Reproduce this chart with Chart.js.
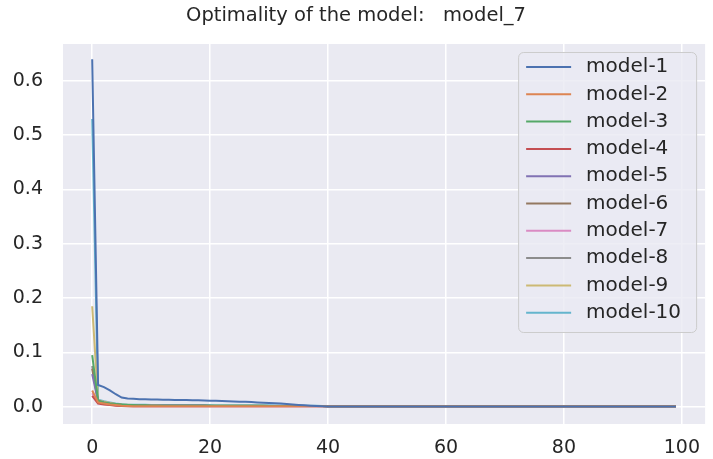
<!DOCTYPE html>
<html><head><meta charset="utf-8">
<script src="https://cdn.jsdelivr.net/npm/chart.js@4.4.1/dist/chart.umd.min.js"></script>
<style>html,body{margin:0;padding:0;background:#fff}</style>
</head><body>
<canvas id="c" width="713" height="459"></canvas>
<script>
const titleText = "Optimality of the model:   model_7";
const seriesNames = ["model-1","model-2","model-3","model-4","model-5","model-6","model-7","model-8","model-9","model-10"];
const seriesColors = ["#4C72B0","#DD8452","#55A868","#C44E52","#8172B3","#937860","#DA8BC3","#8C8C8C","#CCB974","#64B5CD"];
const xTicks = [0,20,40,60,80,100];
const yTicks = [0.0,0.1,0.2,0.3,0.4,0.5,0.6];
const epochs = [
0,1,2,3,4,5,6,7,8,9,
10,11,12,13,14,15,16,17,18,19,
20,21,22,23,24,25,26,27,28,29,
30,31,32,33,34,35,36,37,38,39,
40,41,42,43,44,45,46,47,48,49,
50,51,52,53,54,55,56,57,58,59,
60,61,62,63,64,65,66,67,68,69,
70,71,72,73,74,75,76,77,78,79,
80,81,82,83,84,85,86,87,88,89,
90,91,92,93,94,95,96,97,98,99];

const model1 = [
0.640,0.040,0.036,0.030,0.023,0.017,0.015,0.0145,0.014,0.0138,
0.0135,0.0133,0.013,0.0128,0.0126,0.0124,0.0122,0.012,0.0118,0.0115,
0.0112,0.011,0.0106,0.0102,0.0098,0.0094,0.009,0.0085,0.008,0.0075,
0.007,0.0064,0.0058,0.005,0.0042,0.0034,0.0026,0.0018,0.0012,0.0008,
0.0006,0.0006,0.0006,0.0006,0.0006,0.0006,0.0006,0.0006,0.0006,0.0006,
0.0005,0.0005,0.0005,0.0005,0.0005,0.0005,0.0005,0.0005,0.0005,0.0005,
0.0005,0.0005,0.0005,0.0005,0.0005,0.0005,0.0005,0.0005,0.0005,0.0005,
0.0005,0.0005,0.0005,0.0005,0.0005,0.0005,0.0005,0.0005,0.0005,0.0005,
0.0005,0.0005,0.0005,0.0005,0.0005,0.0005,0.0005,0.0005,0.0005,0.0005,
0.0005,0.0005,0.0005,0.0005,0.0005,0.0005,0.0005,0.0005,0.0005,0.0005];
const model2 = [
0.030,0.008,0.006,0.004,0.003,0.002,0.0015,0.001,0.001,0.001,
0.001,0.001,0.001,0.001,0.001,0.001,0.001,0.001,0.001,0.001,
0.001,0.001,0.001,0.001,0.001,0.001,0.001,0.001,0.001,0.001,
0.001,0.001,0.001,0.001,0.001,0.001,0.001,0.001,0.001,0.001,
0.001,0.001,0.001,0.001,0.001,0.001,0.001,0.001,0.001,0.001,
0.001,0.001,0.001,0.001,0.001,0.001,0.001,0.001,0.001,0.001,
0.001,0.001,0.001,0.001,0.001,0.001,0.001,0.001,0.001,0.001,
0.001,0.001,0.001,0.001,0.001,0.001,0.001,0.001,0.001,0.001,
0.001,0.001,0.001,0.001,0.001,0.001,0.001,0.001,0.001,0.001,
0.001,0.001,0.001,0.001,0.001,0.001,0.001,0.001,0.001,0.001];
const model3 = [
0.095,0.011,0.008,0.006,0.005,0.004,0.003,0.003,0.0025,0.0025,
0.002,0.002,0.002,0.002,0.002,0.002,0.002,0.002,0.002,0.002,
0.002,0.002,0.002,0.002,0.002,0.002,0.002,0.002,0.002,0.002,
0.0015,0.0015,0.0015,0.0015,0.0015,0.0015,0.0015,0.0015,0.0015,0.0015,
0.001,0.001,0.001,0.001,0.001,0.001,0.001,0.001,0.001,0.001,
0.001,0.001,0.001,0.001,0.001,0.001,0.001,0.001,0.001,0.001,
0.001,0.001,0.001,0.001,0.001,0.001,0.001,0.001,0.001,0.001,
0.001,0.001,0.001,0.001,0.001,0.001,0.001,0.001,0.001,0.001,
0.001,0.001,0.001,0.001,0.001,0.001,0.001,0.001,0.001,0.001,
0.001,0.001,0.001,0.001,0.001,0.001,0.001,0.001,0.001,0.001];
const model4 = [
0.020,0.006,0.004,0.003,0.002,0.0015,0.001,0.001,0.001,0.001,
0.001,0.001,0.001,0.001,0.001,0.001,0.001,0.001,0.001,0.001,
0.001,0.001,0.001,0.001,0.001,0.001,0.001,0.001,0.001,0.001,
0.001,0.001,0.001,0.001,0.001,0.001,0.001,0.001,0.001,0.001,
0.001,0.001,0.001,0.001,0.001,0.001,0.001,0.001,0.001,0.001,
0.001,0.001,0.001,0.001,0.001,0.001,0.001,0.001,0.001,0.001,
0.001,0.001,0.001,0.001,0.001,0.001,0.001,0.001,0.001,0.001,
0.001,0.001,0.001,0.001,0.001,0.001,0.001,0.001,0.001,0.001,
0.001,0.001,0.001,0.001,0.001,0.001,0.001,0.001,0.001,0.001,
0.001,0.001,0.001,0.001,0.001,0.001,0.001,0.001,0.001,0.001];
const model5 = [
0.060,0.010,0.007,0.005,0.004,0.003,0.0025,0.002,0.002,0.002,
0.002,0.002,0.002,0.002,0.002,0.002,0.002,0.002,0.002,0.002,
0.0015,0.0015,0.0015,0.0015,0.0015,0.0015,0.0015,0.0015,0.0015,0.0015,
0.0015,0.0015,0.0015,0.0015,0.0015,0.0015,0.0015,0.0015,0.0015,0.0015,
0.001,0.001,0.001,0.001,0.001,0.001,0.001,0.001,0.001,0.001,
0.001,0.001,0.001,0.001,0.001,0.001,0.001,0.001,0.001,0.001,
0.001,0.001,0.001,0.001,0.001,0.001,0.001,0.001,0.001,0.001,
0.001,0.001,0.001,0.001,0.001,0.001,0.001,0.001,0.001,0.001,
0.001,0.001,0.001,0.001,0.001,0.001,0.001,0.001,0.001,0.001,
0.001,0.001,0.001,0.001,0.001,0.001,0.001,0.001,0.001,0.001];
const model6 = [
0.070,0.010,0.007,0.005,0.004,0.003,0.0025,0.002,0.002,0.002,
0.002,0.002,0.002,0.002,0.002,0.002,0.002,0.002,0.002,0.002,
0.0015,0.0015,0.0015,0.0015,0.0015,0.0015,0.0015,0.0015,0.0015,0.0015,
0.0015,0.0015,0.0015,0.0015,0.0015,0.0015,0.0015,0.0015,0.0015,0.0015,
0.001,0.001,0.001,0.001,0.001,0.001,0.001,0.001,0.001,0.001,
0.001,0.001,0.001,0.001,0.001,0.001,0.001,0.001,0.001,0.001,
0.001,0.001,0.001,0.001,0.001,0.001,0.001,0.001,0.001,0.001,
0.001,0.001,0.001,0.001,0.001,0.001,0.001,0.001,0.001,0.001,
0.001,0.001,0.001,0.001,0.001,0.001,0.001,0.001,0.001,0.001,
0.001,0.001,0.001,0.001,0.001,0.001,0.001,0.001,0.001,0.001];
const model7 = [
0.025,0.007,0.005,0.0035,0.0025,0.002,0.0015,0.001,0.001,0.001,
0.001,0.001,0.001,0.001,0.001,0.001,0.001,0.001,0.001,0.001,
0.001,0.001,0.001,0.001,0.001,0.001,0.001,0.001,0.001,0.001,
0.001,0.001,0.001,0.001,0.001,0.001,0.001,0.001,0.001,0.001,
0.001,0.001,0.001,0.001,0.001,0.001,0.001,0.001,0.001,0.001,
0.001,0.001,0.001,0.001,0.001,0.001,0.001,0.001,0.001,0.001,
0.001,0.001,0.001,0.001,0.001,0.001,0.001,0.001,0.001,0.001,
0.001,0.001,0.001,0.001,0.001,0.001,0.001,0.001,0.001,0.001,
0.001,0.001,0.001,0.001,0.001,0.001,0.001,0.001,0.001,0.001,
0.001,0.001,0.001,0.001,0.001,0.001,0.001,0.001,0.001,0.001];
const model8 = [
0.075,0.011,0.008,0.006,0.0045,0.0035,0.003,0.0025,0.0025,0.002,
0.002,0.002,0.002,0.002,0.002,0.002,0.002,0.002,0.002,0.002,
0.0015,0.0015,0.0015,0.0015,0.0015,0.0015,0.0015,0.0015,0.0015,0.0015,
0.0015,0.0015,0.0015,0.0015,0.0015,0.0015,0.0015,0.0015,0.0015,0.0015,
0.001,0.001,0.001,0.001,0.001,0.001,0.001,0.001,0.001,0.001,
0.001,0.001,0.001,0.001,0.001,0.001,0.001,0.001,0.001,0.001,
0.001,0.001,0.001,0.001,0.001,0.001,0.001,0.001,0.001,0.001,
0.001,0.001,0.001,0.001,0.001,0.001,0.001,0.001,0.001,0.001,
0.001,0.001,0.001,0.001,0.001,0.001,0.001,0.001,0.001,0.001,
0.001,0.001,0.001,0.001,0.001,0.001,0.001,0.001,0.001,0.001];
const model9 = [
0.185,0.012,0.009,0.007,0.005,0.004,0.0035,0.003,0.003,0.0025,
0.0025,0.0025,0.002,0.002,0.002,0.002,0.002,0.002,0.002,0.002,
0.002,0.002,0.002,0.002,0.002,0.002,0.002,0.002,0.002,0.002,
0.0015,0.0015,0.0015,0.0015,0.0015,0.0015,0.0015,0.0015,0.0015,0.0015,
0.001,0.001,0.001,0.001,0.001,0.001,0.001,0.001,0.001,0.001,
0.001,0.001,0.001,0.001,0.001,0.001,0.001,0.001,0.001,0.001,
0.001,0.001,0.001,0.001,0.001,0.001,0.001,0.001,0.001,0.001,
0.001,0.001,0.001,0.001,0.001,0.001,0.001,0.001,0.001,0.001,
0.001,0.001,0.001,0.001,0.001,0.001,0.001,0.001,0.001,0.001,
0.001,0.001,0.001,0.001,0.001,0.001,0.001,0.001,0.001,0.001];
const model10 = [
0.530,0.013,0.010,0.008,0.006,0.0045,0.004,0.0038,0.0036,0.0035,
0.0034,0.0034,0.0033,0.0033,0.0032,0.0032,0.0031,0.0031,0.003,0.003,
0.003,0.0029,0.0029,0.0028,0.0028,0.0027,0.0027,0.0026,0.0026,0.0025,
0.0025,0.0024,0.0024,0.0023,0.0022,0.0021,0.002,0.0018,0.0016,0.0014,
0.0012,0.0012,0.0012,0.0012,0.0012,0.0012,0.0012,0.0012,0.0012,0.0012,
0.0012,0.0012,0.0012,0.0012,0.0012,0.0012,0.0012,0.0012,0.0012,0.0012,
0.0012,0.0012,0.0012,0.0012,0.0012,0.0012,0.0012,0.0012,0.0012,0.0012,
0.0012,0.0012,0.0012,0.0012,0.0012,0.0012,0.0012,0.0012,0.0012,0.0012,
0.0012,0.0012,0.0012,0.0012,0.0012,0.0012,0.0012,0.0012,0.0012,0.0012,
0.0012,0.0012,0.0012,0.0012,0.0012,0.0012,0.0012,0.0012,0.0012,0.0012];

const seriesValues = [model1,model2,model3,model4,model5,model6,model7,model8,model9,model10];

const FONT = '"DejaVu Sans", "Liberation Sans", sans-serif';
const TEXT = '#262626';

const bgPlugin = {
  id: 'areaBg',
  beforeDraw(chart) {
    const a = chart.chartArea, ctx = chart.ctx;
    ctx.save();
    ctx.fillStyle = '#ffffff';
    ctx.fillRect(0, 0, chart.width, chart.height);
    ctx.fillStyle = '#EAEAF2';
    ctx.fillRect(a.left, a.top, a.right - a.left, a.bottom - a.top);
    ctx.restore();
  }
};

const legendPlugin = {
  id: 'boxLegend',
  afterDatasetsDraw(chart) {
    const a = chart.chartArea, ctx = chart.ctx;
    const w = 178, h = 280;
    const x0 = a.right - 9 - w, y0 = a.top + 8;
    ctx.save();
    ctx.beginPath();
    ctx.roundRect(x0 + 0.5, y0 + 0.5, w, h, 5);
    ctx.fillStyle = 'rgba(234,234,242,0.8)';
    ctx.fill();
    ctx.strokeStyle = '#cccccc';
    ctx.lineWidth = 1;
    ctx.stroke();
    ctx.font = '20px ' + FONT;
    ctx.textBaseline = 'middle';
    ctx.textAlign = 'left';
    chart.data.datasets.forEach((ds, i) => {
      const cy = y0 + 15 + i * 27.3;
      ctx.strokeStyle = ds.borderColor;
      ctx.lineWidth = 2;
      ctx.beginPath();
      ctx.moveTo(x0 + 8, cy);
      ctx.lineTo(x0 + 53, cy);
      ctx.stroke();
      ctx.fillStyle = TEXT;
      ctx.fillText(ds.label, x0 + 68, cy);
    });
    ctx.restore();
  }
};

new Chart(document.getElementById('c'), {
  type: 'line',
  data: {
    labels: epochs,
    datasets: seriesNames.map((name, i) => ({
      label: name,
      data: seriesValues[i],
      borderColor: seriesColors[i],
      backgroundColor: seriesColors[i],
      borderWidth: 2,
      pointRadius: 0,
      tension: 0,
      fill: false
    }))
  },
  options: {
    responsive: false,
    animation: false,
    devicePixelRatio: 1,
    layout: { padding: { left: 0, right: 1, top: 0, bottom: 0 } },
    plugins: {
      legend: { display: false },
      tooltip: { enabled: false },
      title: {
        display: true,
        text: titleText,
        color: TEXT,
        font: { family: FONT, size: 19.5, weight: 'normal', lineHeight: 1.2 },
        padding: { top: 4, bottom: 16.6 }
      }
    },
    scales: {
      x: {
        type: 'linear',
        min: -4.95, max: 103.95,
        border: { display: false },
        grid: { color: '#ffffff', lineWidth: 1.5, drawTicks: false },
        afterBuildTicks: s => { s.ticks = xTicks.map(v => ({ value: v })); },
        afterFit: s => { s.height = 35; },
        ticks: {
          color: TEXT, padding: 13, maxRotation: 0,
          font: { family: FONT, size: 19 },
          callback: v => String(v)
        }
      },
      y: {
        min: -0.0318, max: 0.668,
        border: { display: false },
        grid: { color: '#ffffff', lineWidth: 1.5, drawTicks: false },
        afterBuildTicks: s => { s.ticks = yTicks.map(v => ({ value: v })); },
        afterFit: s => { s.width = 63; },
        ticks: {
          color: TEXT, padding: 20,
          font: { family: FONT, size: 19 },
          callback: v => Number(v).toFixed(1)
        }
      }
    }
  },
  plugins: [bgPlugin, legendPlugin]
});
</script>
</body></html>
